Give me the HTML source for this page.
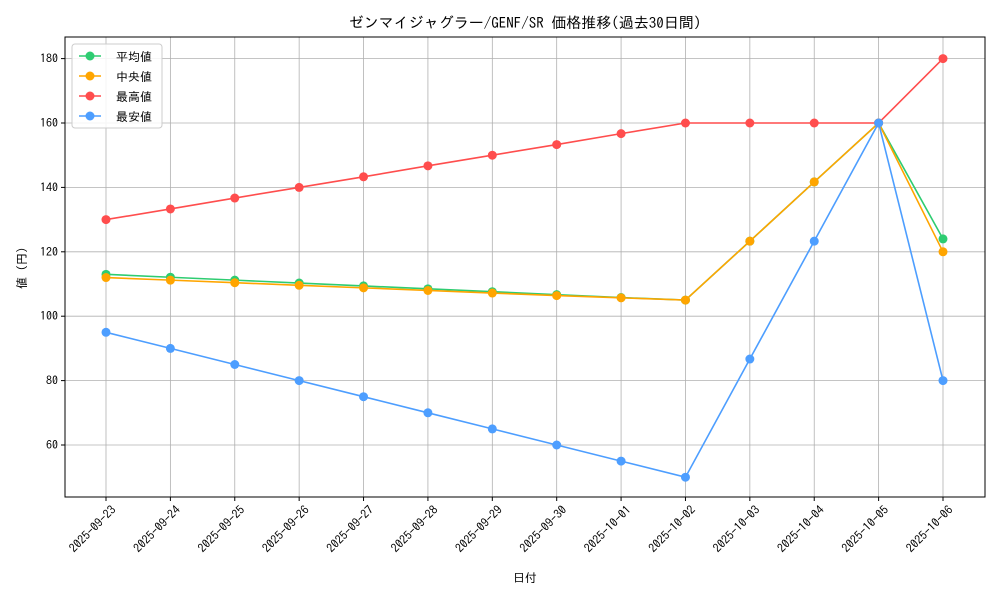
<!DOCTYPE html>
<html><head><meta charset="utf-8"><style>
body{margin:0;background:#fff}
svg{font-family:"IPAGothic","Liberation Sans","Noto Sans CJK JP",sans-serif}
</style></head><body>
<svg id="chart" width="1000" height="600" viewBox="0 0 1000 600" xmlns="http://www.w3.org/2000/svg">
<rect width="1000" height="600" fill="#fff"/>
<text x="525" y="28" font-size="15" text-anchor="middle">ゼンマイジャグラー/GENF/SR 価格推移(過去30日間)</text>
<g id="grid"></g>
<g id="axes"></g>
<g id="series"></g>
<text x="525" y="582" font-size="12" text-anchor="middle">日付</text>
<text transform="translate(26,268) rotate(-90)" font-size="12" text-anchor="middle">値 (円)</text>
<g id="legend"></g>
</svg>
<script>
const dates=["2025-09-23","2025-09-24","2025-09-25","2025-09-26","2025-09-27","2025-09-28","2025-09-29","2025-09-30","2025-10-01","2025-10-02","2025-10-03","2025-10-04","2025-10-05","2025-10-06"];
const avgVals=[113,112.1,111.2,110.3,109.4,108.5,107.6,106.7,105.8,105,123.3,141.7,160,124];
const medVals=[112,111.2,110.4,109.6,108.8,108,107.2,106.4,105.7,105,123.3,141.7,160,120];
const maxVals=[130,133.3,136.7,140,143.3,146.7,150,153.3,156.7,160,160,160,160,180];
const minVals=[95,90,85,80,75,70,65,60,55,50,86.7,123.3,160,80];
const yTicks=[60,80,100,120,140,160,180];
const seriesNames=["平均値","中央値","最高値","最安値"];
const NS="http://www.w3.org/2000/svg";
const L=65,R=985,T=37,B=497;
const x=i=>106+i*(943-106)/(dates.length-1);
const y=v=>445-(v-60)*3.22;
function mk(tag,attrs,parent){const e=document.createElementNS(NS,tag);for(const k in attrs)e.setAttribute(k,attrs[k]);parent.appendChild(e);return e;}
const grid=document.getElementById('grid'),axes=document.getElementById('axes'),ser=document.getElementById('series'),leg=document.getElementById('legend');
dates.forEach((d,i)=>{
  const g=mk('line',{x1:x(i),x2:x(i),y1:T,y2:B,stroke:'#b0b0b0','stroke-width':0.8},grid);
  
  
  const t=mk('line',{x1:x(i),x2:x(i),y1:B,y2:B+4,stroke:'#000'},axes);
  
  
  const tx=mk('text',{transform:`translate(${x(i)+5},${B+8}) rotate(-45)`,'font-size':12,'text-anchor':'end','dominant-baseline':'hanging'},axes);
  tx.textContent=d;
  
  
});
yTicks.forEach(v=>{
  const g=mk('line',{x1:L,x2:R,y1:y(v),y2:y(v),stroke:'#b0b0b0','stroke-width':0.8},grid);
  
  
  const t=mk('line',{x1:L-4,x2:L,y1:y(v),y2:y(v),stroke:'#000'},axes);
  
  
  const tx=mk('text',{x:L-7,y:y(v)+4,'font-size':12,'text-anchor':'end'},axes);
  tx.textContent=v;
  
  
});
const frame=mk('rect',{x:L,y:T,width:R-L,height:B-T,fill:'none',stroke:'#000','stroke-width':1},axes);


const all=[[avgVals,'#2ecc71'],[medVals,'#ffa500'],[maxVals,'#ff4d4d'],[minVals,'#4d9eff']];
const keys=['avg','median','max','min'];
all.forEach(([vals,c],s)=>{
  const p=mk('polyline',{points:vals.map((v,i)=>x(i)+','+y(v)).join(' '),fill:'none',stroke:c,'stroke-width':1.6},ser);
  
  
  vals.forEach((v,i)=>{
    const m=mk('circle',{cx:x(i),cy:y(v),r:4.5,fill:c},ser);
    
    
  });
});
const box=mk('rect',{x:72,y:44,width:90,height:84,rx:3,fill:'#fff','fill-opacity':0.85,stroke:'#ccc'},leg);


all.forEach(([v,c],s)=>{
  const yy=56+s*20;
  const g=mk('g',{},leg);
  
  
  mk('line',{x1:79,x2:101,y1:yy,y2:yy,stroke:c,'stroke-width':1.6},g);
  mk('circle',{cx:90,cy:yy,r:4.5,fill:c},g);
  const t=mk('text',{x:116,y:yy+5,'font-size':12},g);
  t.textContent=seriesNames[s];
});
</script>
</body></html>
